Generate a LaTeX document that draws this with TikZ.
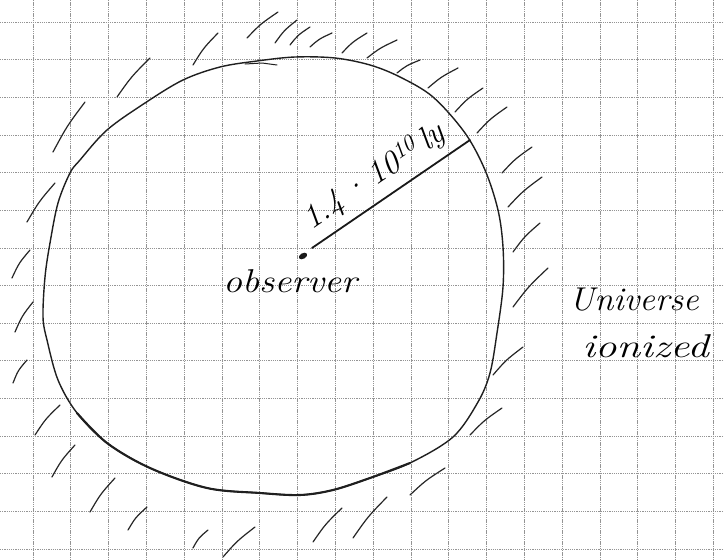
\documentclass[tikz,border=0pt]{standalone}
\begin{document}
\begin{tikzpicture}[x=1pt,y=-1pt,
  gridline/.style={black!42,line width=0.8pt,dash pattern=on 1.3pt off 0.9pt},
  rim/.style={black!88,line width=1.4pt,line join=round,line cap=round},
  hatch/.style={black!85,line width=1.2pt,line cap=round},
  hand/.style={font=\fontsize{33}{38}\selectfont\itshape,inner sep=0pt}]
\useasboundingbox (0,0) rectangle (724,560);
\fill[white] (0,0) rectangle (724,560);
% grid paper
\foreach \i in {0,...,18} { \draw[gridline] ({33+37.8*\i},0) -- ({33+37.8*\i},560); }
\foreach \j in {0,...,14} { \draw[gridline] (0,{22+37.65*\j}) -- (724,{22+37.65*\j}); }
% boundary of the observable universe
\draw[rim] plot[smooth cycle,tension=0.55] coordinates {
 (80,160) (107,130) (145,103) (183,80) (220,67) (257,61) (295,57) (335,58)
 (370,65) (400,77) (433,97) (465,133) (485,170) (498,210) (503,247) (503,287)
 (497,333) (490,373) (478,402) (453,437) (410,463) (370,478) (333,490) (300,495)
 (260,493) (207,488) (150,468) (107,443) (77,413) (58,380) (47,340) (43,317)
 (45,277) (50,243) (58,203) (70,173)};
\draw[rim,line width=2.1pt] plot[smooth,tension=0.55] coordinates {
 (77,413) (107,443) (150,468) (207,488) (260,493) (300,495) (333,490)
 (370,478) (410,463)};
\draw[rim,line width=1pt] (245,64) -- (262,63) -- (277,65);
% hatches (outside: ionized universe)
\foreach \a/\b/\c/\d in {
 53/152/85/102, 117/97/150/58, 193/65/218/33, 247/38/278/12, 275/43/297/20,
 290/45/310/27, 310/47/332/33, 342/53/367/33, 367/58/397/40, 397/73/420/60,
 428/88/458/68, 455/112/483/88, 477/133/507/107, 502/173/532/147,
 508/207/542/177, 513/252/540/223, 513/307/548/268, 493/375/523/347,
 470/435/502/408, 410/495/445/468, 353/538/387/497, 313/542/342/508,
 223/557/255/527, 193/548/208/530, 128/530/147/507, 90/512/115/478,
 52/477/75/445, 35/435/60/405, 13/383/27/360, 15/332/33/302,
 12/278/30/250, 27/222/55/183}
 { \draw[hatch] (\a,\b) .. controls ({(\a+\c)/2-2},{(\b+\d)/2-1}) .. (\c,\d); }
% observer and radius
\coordinate (obs) at (303,256);
\coordinate (rstart) at (312,248);
\coordinate (redge) at (470,140);
\fill[black!90,rotate around={30:(obs)}] (obs) ellipse (4.5 and 2.8);
\draw[black!90,line width=1.8pt,line cap=round] (rstart) -- (redge);
\node[hand,rotate=34.4] (rlabel) at (374,177) {1.4\,·\,10\textsuperscript{10}\,ly};
\node[hand,xscale=1.15] (observer) at (290,281) {observer};
\node[hand,xscale=1.05,anchor=west] (univ) at (569,300) {Universe};
\node[hand,xscale=1.3,anchor=west] (ion) at (582,346) {ionized};
\end{tikzpicture}
\end{document}
